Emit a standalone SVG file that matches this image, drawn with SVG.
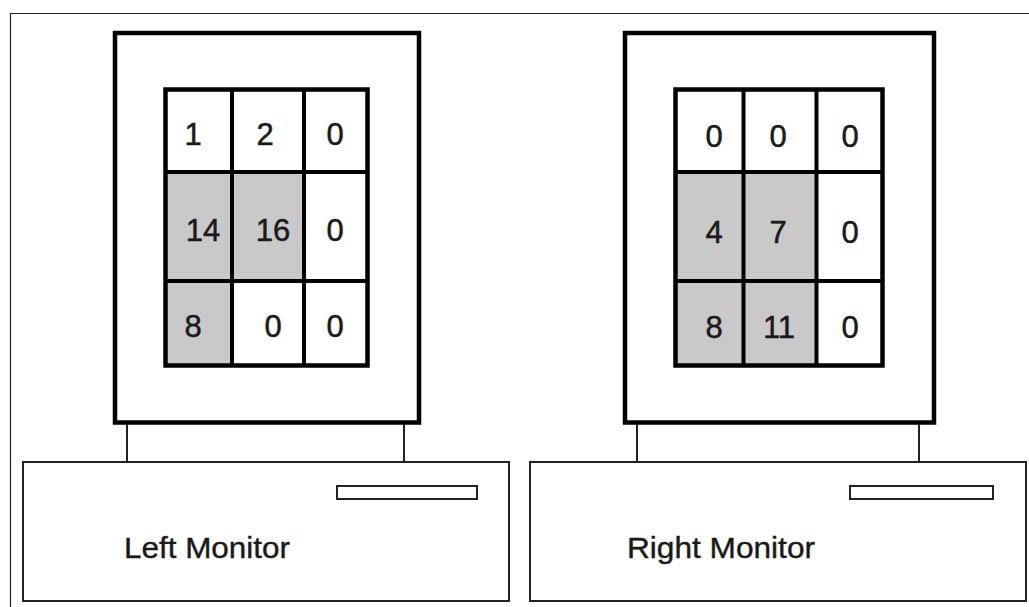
<svg xmlns="http://www.w3.org/2000/svg" width="1029" height="607" viewBox="0 0 1029 607">
<style>
.frame{fill:none;stroke:#222;stroke-width:1.2}
.screen{fill:#fff;stroke:#000;stroke-width:4.5}
.gray{fill:#c9c9c9;stroke:none}
.grid{fill:none;stroke:#000;stroke-width:4.5}
.line{stroke:#000;stroke-width:4}
.leg{stroke:#222;stroke-width:2}
.base{fill:#fff;stroke:#222;stroke-width:2}
.slot{fill:#fff;stroke:#222;stroke-width:2}
.num{font-family:"Liberation Sans",Arial,sans-serif;font-size:31px;fill:#1a1a1a;stroke:#1a1a1a;stroke-width:0.5;text-anchor:middle}
.label{font-family:"Liberation Sans",Arial,sans-serif;font-size:30px;fill:#1a1a1a;stroke:#1a1a1a;stroke-width:0.4}
</style>
<rect width="1029" height="607" fill="#fff"/>
<path class="frame" d="M10.5 607 V13.5 H1029"/>
<g id="left-monitor">
  <rect class="screen" x="115" y="33" width="304" height="389.5"/>
  <rect class="gray" x="165.5" y="172" width="138.5" height="109"/>
  <rect class="gray" x="165.5" y="281" width="66.5" height="84.5"/>
  <line class="line" x1="232" y1="89.5" x2="232" y2="365.5"/>
  <line class="line" x1="304" y1="89.5" x2="304" y2="365.5"/>
  <line class="line" x1="165.5" y1="172" x2="367.5" y2="172"/>
  <line class="line" x1="165.5" y1="281" x2="367.5" y2="281"/>
  <rect class="grid" x="165.5" y="89.5" width="202" height="276"/>
  <text class="num" x="193" y="145">1</text>
  <text class="num" x="265" y="145">2</text>
  <text class="num" x="335" y="145">0</text>
  <text class="num" x="203" y="241">14</text>
  <text class="num" x="273" y="241">16</text>
  <text class="num" x="335" y="241">0</text>
  <text class="num" x="193" y="337">8</text>
  <text class="num" x="273" y="337">0</text>
  <text class="num" x="335" y="337">0</text>
  <line class="leg" x1="127" y1="424" x2="127" y2="462"/>
  <line class="leg" x1="404" y1="424" x2="404" y2="462"/>
  <rect class="base" x="23" y="462" width="486" height="139"/>
  <rect class="slot" x="337" y="486" width="140" height="13"/>
  <text class="label" x="124" y="558" textLength="166" lengthAdjust="spacingAndGlyphs">Left Monitor</text>
</g>
<g id="right-monitor">
  <rect class="screen" x="625" y="33" width="309" height="389.5"/>
  <rect class="gray" x="675.5" y="172" width="141" height="193.5"/>
  <line class="line" x1="743.5" y1="89.5" x2="743.5" y2="365.5"/>
  <line class="line" x1="816.5" y1="89.5" x2="816.5" y2="365.5"/>
  <line class="line" x1="675.5" y1="172" x2="882.5" y2="172"/>
  <line class="line" x1="675.5" y1="281" x2="882.5" y2="281"/>
  <rect class="grid" x="675.5" y="89.5" width="207" height="276"/>
  <text class="num" x="714" y="147">0</text>
  <text class="num" x="778" y="147">0</text>
  <text class="num" x="850" y="147">0</text>
  <text class="num" x="714" y="243">4</text>
  <text class="num" x="778" y="243">7</text>
  <text class="num" x="850" y="243">0</text>
  <text class="num" x="714" y="338">8</text>
  <text class="num" x="779" y="338">11</text>
  <text class="num" x="850" y="338">0</text>
  <line class="leg" x1="637" y1="424" x2="637" y2="462"/>
  <line class="leg" x1="919" y1="424" x2="919" y2="462"/>
  <rect class="base" x="530" y="462" width="496" height="139"/>
  <rect class="slot" x="850" y="486" width="143" height="13"/>
  <text class="label" x="627" y="558" textLength="188" lengthAdjust="spacingAndGlyphs">Right Monitor</text>
</g>
<g id="connectors"/>
</svg>
